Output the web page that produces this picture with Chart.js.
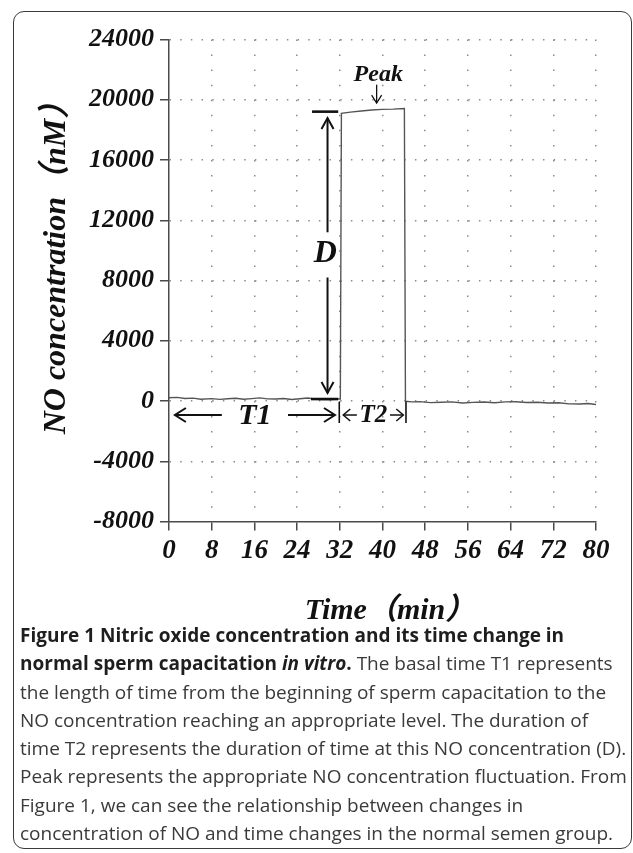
<!DOCTYPE html>
<html>
<head>
<meta charset="utf-8">
<script src="https://cdn.jsdelivr.net/npm/chart.js@4.4.1/dist/chart.umd.min.js"></script>
<style>
  body { margin: 0; background: #fff; width: 633px; height: 853px; overflow: hidden; position: relative; }
  #frame { position: absolute; left: 13px; top: 11px; width: 619px; height: 838px; border: 1.5px solid #3a3a3a; border-radius: 11px; box-sizing: border-box; }
  #plot { position: absolute; left: 0; top: 0; width: 633px; height: 640px; }
  #caption { position: absolute; left: 20px; top: 621px; font-family: 'Open Sans', sans-serif; font-size: 19px; line-height: 28.3px; color: #3a3a3a; white-space: nowrap; }
  #caption b { color: #1e1e1e; font-weight: 700; }
</style>
</head>
<body>
<div id="frame"></div>
<div id="plot"><canvas id="graphChart" width="633" height="640"></canvas></div>
<div id="caption">
  <b>Figure 1 Nitric oxide concentration and its time change in</b><br>
  <b>normal sperm capacitation <i>in vitro</i>.</b> The basal time T1 represents<br>
  the length of time from the beginning of sperm capacitation to the<br>
  NO concentration reaching an appropriate level. The duration of<br>
  time T2 represents the duration of time at this NO concentration (D).<br>
  Peak represents the appropriate NO concentration fluctuation. From<br>
  Figure 1, we can see the relationship between changes in<br>
  concentration of NO and time changes in the normal semen group.
</div>
<script>
// values (time in min, NO in nM)
const timeMin = [0, 1.5, 3, 4.5, 6, 8, 9.5, 11, 12.5, 14, 15.5, 17, 18.5, 20, 21.5, 23, 24.5, 26, 27.5, 29,
  30.5, 31.5, 32.1, 32.3, 34, 36, 38, 40, 42, 44.1, 44.3, 45.5, 47, 49, 51, 53, 55, 57, 59, 61,
  63, 65, 67, 69, 71, 73, 75, 77, 78.5, 80];
const noConc = [220, 240, 170, 190, 120, 160, 110, 150, 180, 120, 160, 210, 140, 130, 170, 100, 150, 200, 120, 90,
  100, 130, 130, 19100, 19180, 19250, 19320, 19360, 19380, 19420, -20, -60, -40, -110, -80, -60, -130, -90, -70, -120,
  -60, -50, -100, -80, -130, -120, -190, -200, -170, -230];
const xTicks = [0, 8, 16, 24, 32, 40, 48, 56, 64, 72, 80];
const yTicks = [-8000, -4000, 0, 4000, 8000, 12000, 16000, 20000, 24000];

const serif = "'Liberation Serif', 'Noto Sans CJK SC', serif";
const ink = '#111';

function head(ctx, tx, ty, dx, dy, len, half) {
  // open "V" arrow head, tip at (tx, ty), pointing along (dx, dy)
  const n = Math.hypot(dx, dy); dx /= n; dy /= n;
  ctx.beginPath();
  ctx.moveTo(tx - dx * len - dy * half, ty - dy * len + dx * half);
  ctx.lineTo(tx, ty);
  ctx.lineTo(tx - dx * len + dy * half, ty - dy * len - dx * half);
  ctx.stroke();
}
function seg(ctx, x1, y1, x2, y2) {
  ctx.beginPath(); ctx.moveTo(x1, y1); ctx.lineTo(x2, y2); ctx.stroke();
}

// D, T1, T2 and Peak markings, placed in data units
const marks = {
  id: 'marks',
  afterDatasetsDraw(chart) {
    const { ctx, scales: { x, y } } = chart;
    const px = v => x.getPixelForValue(v);
    const py = v => y.getPixelForValue(v);
    ctx.save();
    ctx.strokeStyle = ink;
    ctx.fillStyle = ink;
    ctx.textAlign = 'center';
    ctx.textBaseline = 'middle';

    // D
    ctx.lineWidth = 2.6;
    seg(ctx, px(26.8), py(19210), px(31.7), py(19210));
    seg(ctx, px(26.6), py(130), px(31.7), py(130));
    ctx.lineWidth = 2;
    const dx = px(29.7);
    seg(ctx, dx, py(18790), dx, py(11200));
    seg(ctx, dx, py(8200), dx, py(530));
    head(ctx, dx, py(18790), 0, -1, 11, 6);
    head(ctx, dx, py(530), 0, 1, 11, 6);
    ctx.font = 'italic bold 32px ' + serif;
    ctx.fillText('D', px(29.3), py(9750));

    // T1
    const ly = py(-930);
    ctx.lineWidth = 2;
    seg(ctx, px(1.1), ly, px(9.9), ly);
    head(ctx, px(1.1), ly, -1, 0, 11, 7);
    seg(ctx, px(22.3), ly, px(31.1), ly);
    head(ctx, px(31.1), ly, 1, 0, 11, 7);
    ctx.font = 'italic bold 30px ' + serif;
    ctx.fillText('T1', px(16.1), ly + 1);

    // bars around T2
    ctx.lineWidth = 1.6;
    seg(ctx, px(31.9), py(-50), px(31.9), py(-1460));
    seg(ctx, px(44.4), py(-50), px(44.4), py(-1460));

    // T2
    ctx.lineWidth = 1.5;
    seg(ctx, px(32.65), ly, px(35.2), ly);
    head(ctx, px(32.65), ly, -1, 0, 7, 6);
    seg(ctx, px(41.4), ly, px(43.9), ly);
    head(ctx, px(43.9), ly, 1, 0, 7, 6);
    ctx.font = 'italic bold 25px ' + serif;
    ctx.fillText('T2', px(38.3), ly + 1);

    // Peak
    ctx.font = 'italic bold 24px ' + serif;
    ctx.fillText('Peak', px(39.2), py(21640));
    ctx.lineWidth = 1.3;
    seg(ctx, px(38.9), py(21000), px(38.9), py(19780));
    head(ctx, px(38.9), py(19780), 0, 1, 8, 5);
    ctx.restore();
  }
};

const gridGrey = '#8c8c8c';
const axisGrey = '#4a4a4a';

new Chart(document.getElementById('graphChart'), {
  type: 'line',
  data: {
    datasets: [{
      data: timeMin.map((t, i) => ({ x: t, y: noConc[i] })),
      borderColor: '#555',
      borderWidth: 1.4,
      pointRadius: 0,
      tension: 0,
      fill: false
    }]
  },
  options: {
    responsive: false,
    animation: false,
    layout: { padding: { left: 0, top: 39.5, right: 37, bottom: 0 } },
    plugins: { legend: { display: false }, tooltip: { enabled: false } },
    scales: {
      x: {
        type: 'linear',
        min: 0,
        max: 80,
        afterBuildTicks: s => { s.ticks = xTicks.map(v => ({ value: v })); },
        afterFit: s => { s.height = 118.5; },
        grid: {
          color: c => (c.tick && c.tick.value === 0) ? 'rgba(0,0,0,0)' : gridGrey,
          lineWidth: 1.5,
          tickLength: 9,
          tickColor: axisGrey,
          tickWidth: 1.5,
          tickBorderDash: []
        },
        border: { display: true, color: axisGrey, width: 1.5, dash: [1.5, 13.56] },
        ticks: {
          color: ink,
          padding: 4,
          maxRotation: 0,
          callback: v => String(v),
          font: { family: serif, size: 27, style: 'italic', weight: 'bold' }
        },
        title: {
          display: true,
          text: '\u2002Time（min）',
          color: ink,
          padding: { top: 0, bottom: 11 },
          font: { family: serif, size: 30, style: 'italic', weight: 'bold' }
        }
      },
      y: {
        min: -8000,
        max: 24000,
        afterBuildTicks: s => { s.ticks = yTicks.map(v => ({ value: v })); },
        afterFit: s => { s.width = 169; },
        grid: {
          color: c => (c.tick && c.tick.value === -8000) ? 'rgba(0,0,0,0)' : gridGrey,
          lineWidth: 1.5,
          tickLength: 9,
          tickColor: axisGrey,
          tickWidth: 1.5,
          tickBorderDash: []
        },
        border: { display: true, color: axisGrey, width: 1.5, dash: [1.5, 9.17] },
        ticks: {
          color: ink,
          padding: 6,
          callback: v => String(v),
          font: { family: serif, size: 26, style: 'italic', weight: 'bold' }
        },
        title: {
          display: true,
          text: '\u2003 NO concentration（nM）',
          color: ink,
          padding: { top: 38, bottom: 0 },
          font: { family: serif, size: 32, style: 'italic', weight: 'bold' }
        }
      }
    }
  },
  plugins: [marks]
});
</script>
</body>
</html>
